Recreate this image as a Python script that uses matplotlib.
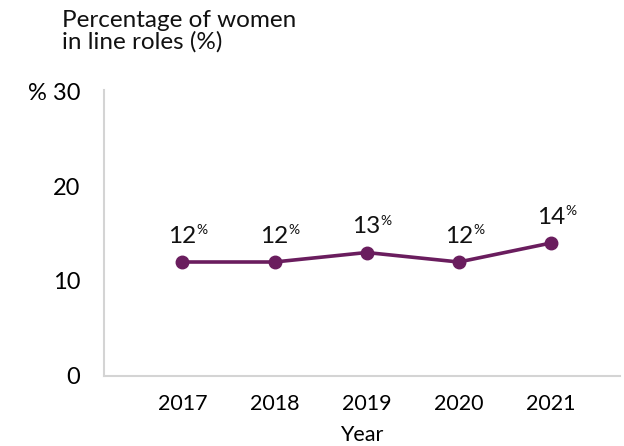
import matplotlib
matplotlib.use("Agg")
import matplotlib.pyplot as plt

years = ["2017", "2018", "2019", "2020", "2021"]
share = [12, 12, 13, 12, 14]
y_ticks = [0, 10, 20, 30]
y_tick_labels = ["0", "10", "20", "% 30"]

LINE = "#6a1d5e"
GRID = "#d4d4d4"

plt.rcParams["font.family"] = ["Lato", "DejaVu Sans"]

fig = plt.figure(figsize=(6.24, 4.46), dpi=100)
ax = fig.add_axes([0.1667, 0.157, 0.827, 0.641])

x = list(range(len(years)))
ax.plot(x, share, color=LINE, lw=2.6, marker="o", ms=9, zorder=3)

for xi, v in zip(x, share):
    num = ax.annotate(f"{v}", xy=(xi, v), xytext=(0, 11), textcoords="offset points",
                      ha="center", va="bottom", fontsize=17.5, color="#111111")
    ax.annotate("%", xy=(1.0, 0.5), xycoords=num, ha="left", va="bottom",
                fontsize=10, color="#111111")

ax.set_xlim(-0.85, 4.75)
ax.set_ylim(0, 30.1)
ax.set_xticks(x)
ax.set_xticklabels(years, fontsize=15.5)
ax.set_yticks(y_ticks)
ax.set_yticklabels(y_tick_labels, fontsize=17)
ax.tick_params(axis="x", length=0, pad=13)
ax.tick_params(axis="y", length=0, pad=17)

for side in ("top", "right"):
    ax.spines[side].set_visible(False)
for side in ("left", "bottom"):
    ax.spines[side].set_color(GRID)
    ax.spines[side].set_linewidth(1.5)

ax.set_xlabel("Year", fontsize=15.5, labelpad=8)
fig.text(0.099, 0.978, "Percentage of women\nin line roles (%)", ha="left", va="top",
         fontsize=17.5, linespacing=1.0, color="#111111")

fig.savefig("out.png", dpi=100)
